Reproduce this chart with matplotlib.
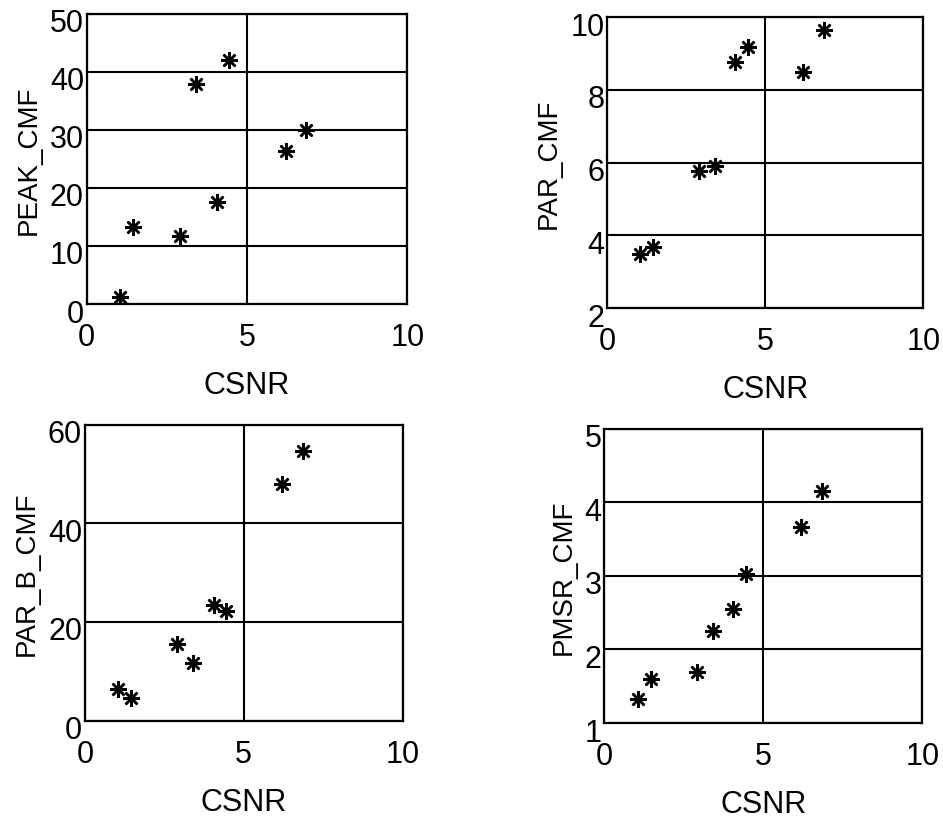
import matplotlib
matplotlib.use("Agg")
import matplotlib.pyplot as plt
import matplotlib.transforms as mtransforms

plt.rcParams["font.family"] = ["Liberation Sans", "DejaVu Sans"]

csnr = [1.05, 1.45, 2.9, 3.4, 4.05, 4.45, 6.2, 6.85]
peak_cmf = [1.2, 13.2, 11.7, 37.9, 17.6, 42.0, 26.4, 29.9]
par_cmf = [3.5, 3.67, 5.78, 5.92, 8.77, 9.17, 8.48, 9.65]
par_b_cmf = [6.5, 4.6, 15.6, 11.7, 23.4, 22.2, 47.9, 54.6]
pmsr_cmf = [1.33, 1.6, 1.7, 2.25, 2.55, 3.02, 3.66, 4.15]

panels = [
    ("PEAK_CMF", peak_cmf, (0, 50), [0, 10, 20, 30, 40, 50], [0.092, 0.628, 0.340, 0.354]),
    ("PAR_CMF", par_cmf, (2, 10), [2, 4, 6, 8, 10], [0.644, 0.623, 0.335, 0.355]),
    ("PAR_B_CMF", par_b_cmf, (0, 60), [0, 20, 40, 60], [0.090, 0.120, 0.337, 0.361]),
    ("PMSR_CMF", pmsr_cmf, (1, 5), [1, 2, 3, 4, 5], [0.641, 0.117, 0.337, 0.359]),
]

fig = plt.figure(figsize=(9.43, 8.2), dpi=100)

for name, vals, ylim, yticks, rect in panels:
    ax = fig.add_axes(rect)
    ax.plot(csnr, vals, linestyle="none", marker=(8, 2, 0), markersize=12,
            markeredgewidth=1.8, color="black")
    ax.set_xlim(0, 10)
    ax.set_ylim(*ylim)
    ax.set_xticks([0, 5, 10])
    ax.set_yticks(yticks)
    ax.grid(True, color="black", linewidth=1.5)
    ax.set_axisbelow(True)
    for sp in ax.spines.values():
        sp.set_linewidth(1.6)
    ax.tick_params(length=0, labelsize=22, pad=13, axis="x")
    ax.tick_params(length=0, labelsize=22, pad=2, axis="y")
    off = mtransforms.ScaledTranslation(0, -6 / 100, fig.dpi_scale_trans)
    for lab in ax.get_yticklabels():
        lab.set_transform(lab.get_transform() + off)
    ax.set_xlabel("CSNR", fontsize=22, labelpad=13)
    ax.set_ylabel(name, fontsize=20, labelpad=6)

fig.savefig("out.png", dpi=100)
